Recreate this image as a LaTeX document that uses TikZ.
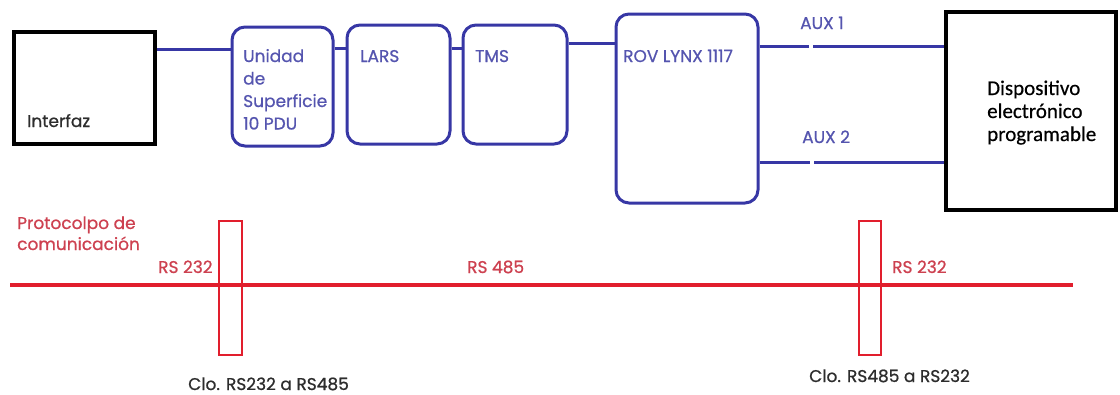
\documentclass[tikz,border=0pt]{standalone}
\usepackage{fontspec}
\setmainfont{Poppins}
\newfontfamily\gfont{Poppins}[FakeBold=0.8]
\newfontfamily\calfont{Carlito}[FakeBold=0.5]
\usetikzlibrary{positioning}

\definecolor{lineblue}{RGB}{55,55,165}
\definecolor{txtblue}{RGB}{85,85,175}
\definecolor{linered}{RGB}{225,30,45}
\definecolor{txtred}{RGB}{205,65,80}
\definecolor{txtgray}{RGB}{45,45,45}

\tikzset{
  blkbox/.style={draw=black, line width=3.8pt, rectangle, inner sep=0pt},
  blubox/.style={draw=lineblue, line width=3pt, rounded corners=13pt, inner sep=0pt},
  redbox/.style={draw=linered, line width=2.6pt, inner sep=0pt},
  bline/.style={draw=lineblue, line width=3pt},
  rline/.style={draw=linered, line width=3.2pt},
  btxt/.style={text=txtblue, font=\gfont\fontsize{17}{22.5}\selectfont, inner sep=0pt, align=left},
  rtxt/.style={text=txtred, font=\gfont\fontsize{17}{21}\selectfont, inner sep=0pt, align=left},
  ktxt/.style={text=txtgray, font=\gfont\fontsize{17}{21}\selectfont, inner sep=0pt},
  dtxt/.style={text=black, font=\calfont\fontsize{21}{23}\selectfont, inner sep=0pt, align=left}
}

\begin{document}
\begin{tikzpicture}[x=1pt, y=-1pt]
  \useasboundingbox (0,0) rectangle (1120,394);

  % Equipment chain
  \node[blkbox, minimum width=141pt, minimum height=112pt] (interfaz) at (84.5,88) {};
  \node[blubox, minimum width=101pt, minimum height=119pt] (unidad) at (282.5,86.5) {};
  \node[blubox, minimum width=103pt, minimum height=119pt] (lars) at (398.5,84.5) {};
  \node[blubox, minimum width=104pt, minimum height=119pt] (tms) at (515,84.5) {};
  \node[blubox, minimum width=142pt, minimum height=189pt] (rov) at (687,108.5) {};
  \node[blkbox, minimum width=170pt, minimum height=198pt] (disp) at (1031,111) {};

  % Box texts (base = last line)
  \node[ktxt, anchor=base west] (tinterfaz) at (27,127) {Interfaz};
  \node[btxt, anchor=base west] (tunidad) at (243,129.5) {Unidad\\de\\Superficie\\10 PDU};
  \node[btxt, anchor=base west] (tlars) at (360,62) {LARS};
  \node[btxt, anchor=base west] (ttms) at (475,62) {TMS};
  \node[btxt, anchor=base west] (trov) at (623,62) {ROV LYNX 1117};
  \node[dtxt, anchor=base west] (tdisp) at (987,141) {Dispositivo\\electrónico\\programable};

  % Links
  \draw[bline] (interfaz.east |- 0,49) -- (unidad.west |- 0,49);
  \draw[bline] (unidad.east |- 0,48) -- (lars.west |- 0,48);
  \draw[bline] (lars.east |- 0,48) -- (tms.west |- 0,48);
  \draw[bline] (tms.east |- 0,43) -- (rov.west |- 0,43);

  % Auxiliary ports
  \coordinate (gapa) at (811,46);
  \coordinate (gapb) at (812,162);
  \draw[bline] (rov.east |- gapa) -- ([xshift=-2pt]gapa);
  \draw[bline] ([xshift=2pt]gapa) -- (disp.west |- gapa);
  \draw[bline] (rov.east |- gapb) -- ([xshift=-2pt]gapb);
  \draw[bline] ([xshift=2pt]gapb) -- (disp.west |- gapb);
  \node[btxt, anchor=base west] (taux1) at (800,29) {AUX 1};
  \node[btxt, anchor=base west] (taux2) at (802,143) {AUX 2};

  % Protocol line
  \coordinate (pleft) at (10,285);
  \coordinate (pright) at (1073,285);
  \draw[rline] (pleft) -- (pright);
  \node[redbox, minimum width=23pt, minimum height=134pt] (cva) at (230.5,288) {};
  \node[redbox, minimum width=22pt, minimum height=134pt] (cvb) at (870,288) {};

  \node[rtxt, anchor=base west] (tproto) at (17,250) {Protocolpo de\\comunicación};
  \node[rtxt, anchor=base west] (trsa) at (158,273) {RS 232};
  \node[rtxt, anchor=base west] (trsb) at (467,273) {RS 485};
  \node[rtxt, anchor=base west] (trsc) at (892,273) {RS 232};
  \node[ktxt, anchor=base west] (tcva) at (188,390) {Clo. RS232 a RS485};
  \node[ktxt, anchor=base west] (tcvb) at (809,382) {Clo. RS485 a RS232};
\end{tikzpicture}
\end{document}
